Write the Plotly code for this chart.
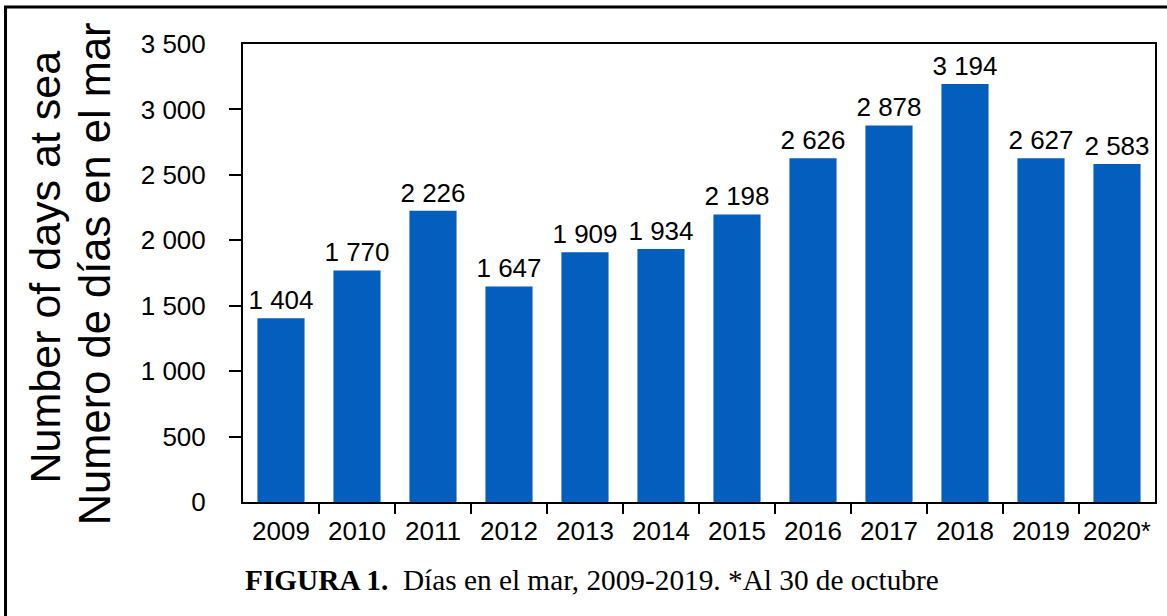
import plotly.graph_objects as go

years = ["2009", "2010", "2011", "2012", "2013", "2014", "2015", "2016", "2017", "2018", "2019", "2020*"]
days_at_sea = [1404, 1770, 2226, 1647, 1909, 1934, 2198, 2626, 2878, 3194, 2627, 2583]
y_ticks = [0, 500, 1000, 1500, 2000, 2500, 3000, 3500]

W, H = 1167, 616
L, R, T, B = 243, 10, 44, 114
pw, ph = W - L - R, H - T - B

positions = list(range(len(years)))
boundaries = [i + 0.5 for i in positions[:-1]]

fig = go.Figure(go.Bar(
    x=positions, y=days_at_sea,
    marker=dict(color="#045EBD", line=dict(width=0)),
    width=0.62,
    texttemplate="%{y:,d}", textposition="outside", constraintext="none",
    cliponaxis=False,
    textfont=dict(family="Liberation Sans, Arial", size=26, color="black"),
))

fig.update_layout(
    width=W, height=H, autosize=False,
    margin=dict(l=L, r=R, t=T, b=B, pad=0),
    plot_bgcolor="white", paper_bgcolor="white",
    separators=". ",
    showlegend=False,
    font=dict(family="Liberation Sans, Arial", size=26, color="black"),
)

fig.update_xaxes(
    range=[-0.5, len(years) - 0.5],
    tickmode="array", tickvals=positions, ticktext=years,
    ticks="outside", ticklen=5, tickcolor="rgba(0,0,0,0)",
    minor=dict(tickmode="array", tickvals=boundaries, ticks="outside", ticklen=10, tickwidth=2, tickcolor="black"),
    showline=True, linecolor="black", linewidth=2, mirror=True,
    showgrid=False, zeroline=False,
    tickfont=dict(size=26),
)
fig.update_yaxes(
    range=[0, 3500],
    tickmode="array", tickvals=y_ticks, tickformat=",d",
    ticks="outside", ticklen=30, tickcolor="rgba(0,0,0,0)",
    minor=dict(tickmode="array", tickvals=y_ticks[1:-1], ticks="outside", ticklen=12, tickwidth=2, tickcolor="black"),
    showline=True, linecolor="black", linewidth=2, mirror=True,
    showgrid=False, zeroline=False,
    tickfont=dict(size=26),
)

def px_x(px):
    return (px - L) / pw

def px_y(py):
    return (H - B - py) / ph

fig.add_annotation(text="Number of days at sea", textangle=-90, xref="paper", yref="paper",
                   x=px_x(45), y=px_y(267), xanchor="center", yanchor="middle", showarrow=False,
                   font=dict(size=43))
fig.add_annotation(text="Numero de días en el mar", textangle=-90, xref="paper", yref="paper",
                   x=px_x(95), y=px_y(274), xanchor="center", yanchor="middle", showarrow=False,
                   font=dict(size=43.5))
fig.add_annotation(text="<b>FIGURA 1.</b>  Días en el mar, 2009-2019. *Al 30 de octubre",
                   xref="paper", yref="paper", x=px_x(243), y=px_y(580),
                   xanchor="left", yanchor="middle", showarrow=False,
                   font=dict(family="Liberation Serif, Times New Roman", size=29.3, color="black"))

fig.add_shape(type="rect", xref="paper", yref="paper",
              x0=px_x(5), x1=px_x(1175), y0=px_y(640), y1=px_y(7),
              line=dict(color="black", width=3), fillcolor="rgba(0,0,0,0)", layer="above")

fig.write_html(
    "out.html",
    config={"displayModeBar": False, "responsive": False},
    post_script="document.body.style.margin='0';document.body.style.padding='0';document.body.style.overflow='hidden';document.documentElement.style.overflow='hidden';",
)
